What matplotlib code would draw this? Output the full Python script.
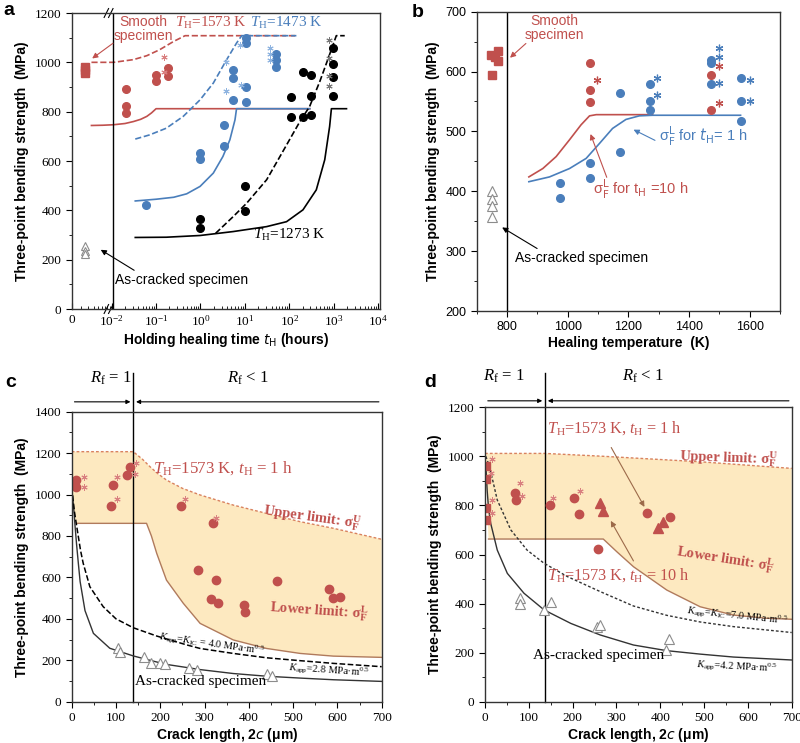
import numpy as np
import matplotlib
matplotlib.use('Agg')
import matplotlib.pyplot as plt
from matplotlib.ticker import MultipleLocator, FixedLocator
from matplotlib.transforms import blended_transform_factory

plt.rcParams['font.family'] = ['Liberation Serif', 'DejaVu Serif']
plt.rcParams['mathtext.fontset'] = 'custom'
plt.rcParams['mathtext.rm'] = 'Liberation Serif'
plt.rcParams['mathtext.it'] = 'Liberation Serif:italic'
plt.rcParams['mathtext.bf'] = 'Liberation Serif:bold'
SANS = ['Liberation Sans', 'DejaVu Sans']

RED = '#c0504d'
BLUE = '#4a7ebb'
TRI = '#8c8c8c'
FILL = '#fde9c0'
UPPER = '#d9825f'
LOWER = '#b07a5c'
ARROW_D = '#9c6a4a'

# ---------------- panel a data (time in hours) ----------------
ZERO_POS = -2.6   # log position used for the "0 h" specimens
a_smooth_v = [983, 968, 955]
a_crack_v = [255, 235, 222]

a_red_t = [0.021, 0.021, 0.021, 0.1, 0.1, 0.19, 0.19]
a_red_v = [893, 824, 794, 949, 924, 978, 946]
a_red_ast_t = [0.15, 0.15]
a_red_ast_v = [1023, 960]

a_blue_t = [0.058, 1, 1, 3.4, 3.4, 5.4, 5.4, 5.4, 10.7, 10.7, 10.7, 10.7, 51, 51, 51]
a_blue_v = [423, 634, 607, 747, 662, 969, 938, 847, 1097, 1077, 901, 840, 1032, 1009, 982]
a_blue_ast_t = [3.8, 3.8, 7.8, 8.1, 37, 37, 37]
a_blue_ast_v = [1003, 884, 1070, 908, 1058, 1034, 1009]

a_blk_t = [1, 1, 10, 10, 112, 112, 204, 204, 309, 309, 309, 977, 977, 977, 977]
a_blk_v = [365, 330, 497, 399, 861, 780, 962, 780, 948, 863, 786, 1057, 992, 942, 863]
a_blk_ast_t = [794, 794, 794, 794]
a_blk_ast_v = [1090, 1019, 945, 904]

red_lo_t = [0.0035, 0.0063, 0.011, 0.020, 0.031, 0.045, 0.062, 0.079, 0.10, 290]
red_lo_v = [744, 745, 747, 752, 760, 769, 781, 795, 812, 812]
red_up_t = [0.0035, 0.011, 0.031, 0.062, 0.12, 0.25, 0.45, 145]
red_up_v = [1000, 1000, 1011, 1027, 1051, 1085, 1108, 1108]
blue_lo_t = [0.034, 0.10, 0.25, 0.49, 0.98, 1.95, 3.2, 4.6, 6.0, 6.5, 290]
blue_lo_v = [438, 445, 453, 467, 497, 551, 618, 686, 767, 812, 812]
blue_up_t = [0.034, 0.072, 0.17, 0.41, 0.98, 1.95, 3.9, 6.5, 8.5, 145]
blue_up_v = [689, 706, 733, 781, 848, 916, 1011, 1078, 1108, 1108]
blk_lo_t = [0.034, 0.17, 0.98, 5.5, 31, 87, 204, 407, 631, 813, 891, 1950]
blk_lo_v = [290, 291, 298, 314, 334, 354, 402, 483, 605, 740, 812, 812]
blk_up_t = [2.2, 5.5, 11, 31, 72, 174, 288, 490, 759, 1150, 1780]
blk_up_v = [307, 375, 429, 524, 639, 760, 821, 923, 1017, 1108, 1108]

# ---------------- panel b data (temperature in K) ----------------
b_smooth_T = [746, 771, 771, 760, 749]
b_smooth_v = [628, 635, 618, 624, 595]
b_crack_T = [750, 750, 750, 750]
b_crack_v = [401, 387, 376, 357]
b_red_T = [1073, 1073, 1073, 1473, 1473]
b_red_v = [614, 570, 549, 595, 536]
b_red_ast_T = [1095, 1500, 1500]
b_red_ast_v = [586, 609, 548]
b_blue_T = [973, 973, 1073, 1073, 1173, 1173, 1273, 1273, 1273, 1473, 1473, 1473, 1573, 1573, 1573]
b_blue_v = [414, 389, 448, 422, 564, 466, 579, 551, 536, 620, 614, 580, 589, 551, 518]
b_blue_ast_T = [1295, 1295, 1500, 1500, 1500, 1600, 1600]
b_blue_ast_v = [590, 561, 640, 624, 581, 586, 551]
b_red_line_T = [872, 918, 962, 1006, 1044, 1072, 1094, 1280]
b_red_line_v = [424, 438, 458, 486, 511, 526, 528, 528]
b_blue_line_T = [872, 940, 1006, 1061, 1105, 1148, 1192, 1236, 1280, 1570]
b_blue_line_v = [416, 424, 438, 455, 480, 505, 520, 526, 527, 527]

# ---------------- panel c data (crack length in um) ----------------
c_up_x = [0, 139, 160, 177, 195, 214, 250, 290, 365, 440, 516, 591, 700]
c_up_v = [1207, 1207, 1170, 1134, 1100, 1070, 1030, 998, 949, 909, 869, 837, 784]
c_lo_x = [0, 4, 8, 12, 169, 180, 192, 214, 252, 290, 365, 440, 516, 591, 700]
c_lo_v = [1000, 930, 880, 861, 861, 800, 716, 587, 475, 378, 298, 257, 233, 220, 214]
c_k28_x = [2, 5, 7.5, 11, 15, 19, 30, 49, 86, 139, 184, 214, 260, 290, 365, 440, 516, 591, 700]
c_k28_v = [995, 920, 850, 760, 668, 580, 440, 330, 258, 221, 196, 180, 165, 155, 136, 123, 114, 106, 98]
c_k40_x = [2, 6, 12.6, 20, 26, 41, 71, 100, 139, 192, 260, 290, 365, 440, 516, 591, 700]
c_k40_v = [995, 920, 829, 730, 668, 555, 459, 400, 357, 317, 274, 257, 233, 212, 198, 185, 169]
c_crack_x = [105, 109, 163, 179, 199, 211, 265, 282, 440, 452]
c_crack_v = [258, 241, 214, 188, 185, 181, 163, 153, 134, 125]
c_red_x = [10, 10, 93, 88, 125, 132, 247, 318, 285, 326, 315, 331, 464, 388, 392, 580, 589, 606]
c_red_v = [1070, 1038, 1046, 946, 1094, 1131, 946, 861, 636, 587, 497, 478, 584, 467, 434, 542, 502, 507]
c_ast_x = [28, 28, 102, 103, 145, 143, 256, 325]
c_ast_v = [1086, 1038, 1083, 977, 1151, 1098, 977, 885]

# ---------------- panel d data ----------------
d_up_x = [0, 137, 263, 491, 700]
d_up_v = [1012, 1012, 1001, 978, 951]
d_lo_x = [0, 4, 8, 270, 301, 339, 415, 491, 567, 643, 700]
d_lo_v = [960, 850, 663, 663, 611, 550, 455, 387, 353, 340, 336]
d_k42_x = [2, 5, 8, 13, 28, 51, 89, 135, 196, 263, 339, 415, 491, 567, 700]
d_k42_v = [960, 860, 790, 727, 618, 523, 442, 374, 319, 272, 231, 208, 194, 182, 170]
d_k70_x = [2, 6, 13, 28, 59, 96, 135, 188, 264, 339, 415, 491, 567, 700]
d_k70_v = [1000, 980, 938, 822, 700, 618, 564, 510, 448, 390, 352, 325, 306, 282]
d_sq_x = [2, 2, 2, 2]
d_sq_v = [961, 906, 788, 741]
d_ast_x = [17, 14, 17, 17, 80, 85, 155, 216]
d_ast_v = [988, 933, 822, 770, 890, 840, 832, 860]
d_red_x = [68, 71, 148, 203, 215, 258, 369, 422]
d_red_v = [852, 822, 800, 830, 764, 621, 768, 754]
d_tri_x = [262, 270, 394, 407]
d_tri_v = [811, 777, 709, 734]
d_crack_x = [80, 81, 135, 151, 256, 262, 413, 421]
d_crack_v = [421, 397, 374, 405, 306, 313, 211, 255]

AST = (6, 2, 0)


def style_axes(ax):
    for s in ax.spines.values():
        s.set_linewidth(1.0)
        s.set_color('#333333')
    ax.tick_params(which='major', direction='out', length=4, width=0.8, labelsize=9.5)
    ax.tick_params(which='minor', direction='out', length=2, width=0.6)


def ylab(ax):
    ax.set_ylabel('Three-point bending strength  (MPa)', family=SANS, fontweight='bold', fontsize=10)


def arrow(ax, tail, head, color, lw=0.8):
    ax.annotate('', xy=head, xytext=tail,
                arrowprops=dict(arrowstyle='-|>', color=color, lw=lw, mutation_scale=8))


def stars(ax, x, y, color, ms=4.5, mew=0.7):
    ax.plot(x, y, marker=AST, ls='none', color=color, ms=ms, mew=mew)


fig = plt.figure(figsize=(8, 7.43), dpi=100)

# ======================= a =======================
ax = fig.add_axes([72 / 800, 1 - 309 / 743, 308 / 800, 296 / 743])
L = np.log10
ax.plot(L(red_lo_t), red_lo_v, color=RED, lw=1.2)
ax.plot(L(red_up_t), red_up_v, color=RED, lw=1.2, ls='--')
ax.plot(L(blue_lo_t), blue_lo_v, color=BLUE, lw=1.2)
ax.plot(L(blue_up_t), blue_up_v, color=BLUE, lw=1.2, ls='--')
ax.plot(L(blk_lo_t), blk_lo_v, color='k', lw=1.2)
ax.plot(L(blk_up_t), blk_up_v, color='k', lw=1.2, ls='--')

ax.plot([ZERO_POS] * len(a_smooth_v), a_smooth_v, 's', color=RED, ms=5.5)
ax.plot([ZERO_POS] * len(a_crack_v), a_crack_v, '^', mfc='white', mec=TRI, ms=6, mew=0.8)
ax.plot(L(a_red_t), a_red_v, 'o', color=RED, ms=5.5)
stars(ax, L(a_red_ast_t), a_red_ast_v, '#d98080')
ax.plot(L(a_blue_t), a_blue_v, 'o', color=BLUE, ms=5.5)
stars(ax, L(a_blue_ast_t), a_blue_ast_v, '#8fb4e0')
ax.plot(L(a_blk_t), a_blk_v, 'o', color='k', ms=5.5)
stars(ax, L(a_blk_ast_t), a_blk_ast_v, '#777777')

ax.axvline(-1.97, color='k', lw=1)
ax.set_xlim(-2.894, 4.045)
ax.set_ylim(0, 1200)
ax.yaxis.set_major_locator(MultipleLocator(200))
ax.yaxis.set_minor_locator(MultipleLocator(100))
maj = [-2.894, -2, -1, 0, 1, 2, 3, 4]
ax.xaxis.set_major_locator(FixedLocator(maj))
ax.set_xticklabels(['0', '10$^{-2}$', '10$^{-1}$', '10$^{0}$', '10$^{1}$', '10$^{2}$', '10$^{3}$', '10$^{4}$'])
minors = [np.log10(k * 10.0 ** d) for d in range(-3, 4) for k in range(2, 10)]
ax.xaxis.set_minor_locator(FixedLocator([m for m in minors if -2.85 < m < 4]))
style_axes(ax)
ax.tick_params(axis='x', which='both', direction='in')
tr = blended_transform_factory(ax.transData, ax.transAxes)
for yb in (0.0, 1.0):
    for dx in (-0.12, -0.02):
        ax.plot([-2.0 + dx - 0.05, -2.0 + dx + 0.05], [yb - 0.015, yb + 0.015], transform=tr,
                color='k', lw=0.8, clip_on=False)
ylab(ax)
ax.set_xlabel('Holding healing time $t_{\\rm H}$ (hours)', family=SANS, fontweight='bold',
              fontsize=10, math_fontfamily='dejavusans', labelpad=2)

ax.text(-1.29, 1135, 'Smooth\nspecimen', color=RED, ha='center', va='center', fontsize=10,
        family=SANS, linespacing=1.05)
arrow(ax, (-1.92, 1084), (-2.49, 1009), RED)
ax.text(-0.57, 1158, '$T_{\\rm H}$=1573 K', color=RED, fontsize=11, va='center')
ax.text(1.11, 1158, '$T_{\\rm H}$=1473 K', color=BLUE, fontsize=11, va='center')
ax.text(1.18, 300, '$T_{\\rm H}$=1273 K', color='k', fontsize=11, va='center')
ax.text(-1.92, 117, 'As-cracked specimen', color='k', fontsize=10, family=SANS, va='center')
arrow(ax, (-1.44, 151), (-2.30, 246), 'k')

# ======================= b =======================
ax = fig.add_axes([476.7 / 800, 1 - 311 / 743, 303.3 / 800, 299.3 / 743])
ax.plot(b_red_line_T, b_red_line_v, color=RED, lw=1.2)
ax.plot(b_blue_line_T, b_blue_line_v, color=BLUE, lw=1.2)
ax.plot(b_smooth_T, b_smooth_v, 's', color=RED, ms=5.5)
ax.plot(b_crack_T, b_crack_v, '^', mfc='white', mec=TRI, ms=6.5, mew=0.8)
ax.plot(b_red_T, b_red_v, 'o', color=RED, ms=5.5)
ax.plot(b_blue_T, b_blue_v, 'o', color=BLUE, ms=5.5)
stars(ax, b_red_ast_T, b_red_ast_v, RED, ms=5.5, mew=0.9)
stars(ax, b_blue_ast_T, b_blue_ast_v, BLUE, ms=5.5, mew=0.9)
ax.axvline(800, color='k', lw=1)
ax.set_xlim(700, 1700)
ax.set_ylim(200, 700)
ax.xaxis.set_major_locator(MultipleLocator(200))
ax.xaxis.set_minor_locator(MultipleLocator(100))
ax.yaxis.set_major_locator(MultipleLocator(100))
ax.yaxis.set_minor_locator(MultipleLocator(50))
style_axes(ax)
ax.tick_params(labelsize=9)
for lab in ax.get_xticklabels() + ax.get_yticklabels():
    lab.set_family(SANS)
ylab(ax)
ax.set_xlabel('Healing temperature  (K)', family=SANS, fontweight='bold', fontsize=10, labelpad=2)

ax.text(957, 673, 'Smooth\nspecimen', color=RED, ha='center', va='center', fontsize=10,
        family=SANS, linespacing=1.05)
arrow(ax, (869, 650), (803, 620), RED)
ax.text(1302, 491, 'σ$_{\\rm F}^{\\rm L}$ for $t_{\\rm H}$= 1 h', color=BLUE, fontsize=10.5, family=SANS,
        math_fontfamily='dejavusans', va='center')
arrow(ax, (1296, 483), (1209, 505), BLUE)
ax.text(1083, 403, 'σ$_{\\rm F}^{\\rm L}$ for t$_{\\rm H}$ =10 h', color=RED, fontsize=10.5, family=SANS,
        math_fontfamily='dejavusans', va='center')
arrow(ax, (1132, 419), (1072, 500), RED)
ax.text(825, 288, 'As-cracked specimen', color='k', fontsize=10, family=SANS, va='center')
arrow(ax, (907, 302), (776, 342), 'k')


def crack_panel(ax, up_x, up_v, lo_x, lo_v, lo_start, xsplit, ytop, ysplit_top, ylim):
    ax.fill(list(up_x) + list(lo_x[::-1]), list(up_v) + list(lo_v[::-1]), color=FILL, lw=0)
    ax.plot(up_x, up_v, color=UPPER, lw=1.0, ls=(0, (2, 1.5)))
    ax.plot(lo_x[lo_start:], lo_v[lo_start:], color=LOWER, lw=1.0)
    ax.set_xlim(0, 700)
    ax.set_ylim(0, ylim)
    ax.xaxis.set_major_locator(MultipleLocator(100))
    ax.xaxis.set_minor_locator(MultipleLocator(50))
    ax.yaxis.set_major_locator(MultipleLocator(200))
    ax.yaxis.set_minor_locator(MultipleLocator(100))
    style_axes(ax)
    ylab(ax)
    ax.set_xlabel('Crack length, 2$c$ (μm)', family=SANS, fontweight='bold', fontsize=10,
                  math_fontfamily='dejavusans', labelpad=1)
    t = blended_transform_factory(ax.transData, ax.transAxes)
    ax.plot([xsplit, xsplit], [0, ysplit_top], transform=t, color='k', lw=1, clip_on=False)
    ap = dict(arrowstyle='-|>', color='k', lw=0.8, mutation_scale=6)
    ax.annotate('', xy=(xsplit, ytop), xytext=(0, ytop), xycoords=t, textcoords=t,
                arrowprops=ap, annotation_clip=False)
    ax.annotate('', xy=(xsplit, ytop), xytext=(700, ytop), xycoords=t, textcoords=t,
                arrowprops=ap, annotation_clip=False)


# ======================= c =======================
ax = fig.add_axes([71.7 / 800, 1 - 701.7 / 743, 310 / 800, 290 / 743])
crack_panel(ax, c_up_x, c_up_v, c_lo_x, c_lo_v, 3, 139, 1.034, 1.132, 1400)
ax.plot(c_k28_x, c_k28_v, color='#333333', lw=1.0)
ax.plot(c_k40_x, c_k40_v, color='k', lw=1.1, ls='--')
ax.plot(c_crack_x, c_crack_v, '^', mfc='white', mec=TRI, ms=6.5, mew=0.8)
ax.plot(c_red_x, c_red_v, 'o', color=RED, ms=6)
stars(ax, c_ast_x, c_ast_v, '#d98080')
ax.text(0.06, 1.115, '$R_{\\rm f}$ = 1', transform=ax.transAxes, fontsize=12, va='center')
ax.text(0.5, 1.115, '$R_{\\rm f}$ < 1', transform=ax.transAxes, fontsize=12, va='center')
ax.text(184, 1127, '$T_{\\rm H}$=1573 K, $t_{\\rm H}$ = 1 h', color=RED, fontsize=12.2, va='center')
ax.text(542, 893, 'Upper limit: σ$_{\\mathbf{F}}^{\\mathbf{U}}$', color=RED, fontsize=10.5,
        fontweight='bold', ha='center', va='center', rotation=-8)
ax.text(558, 442, 'Lower limit: σ$_{\\mathbf{F}}^{\\mathbf{L}}$', color=RED, fontsize=10.5,
        fontweight='bold', ha='center', va='center', rotation=-4)
ax.text(316, 278, '$K_{\\rm app}$=$K_{\\rm IC}$ = 4.0 MPa·m$^{0.5}$', fontsize=7.5,
        ha='center', va='center', rotation=-8)
ax.text(580, 148, '$K_{\\rm app}$=2.8 MPa·m$^{0.5}$', fontsize=7.5, ha='center', va='center', rotation=-4)
ax.text(143, 97, 'As-cracked specimen', fontsize=11, va='center')

# ======================= d =======================
ax = fig.add_axes([485 / 800, 1 - 701.7 / 743, 306.7 / 800, 294.4 / 743])
crack_panel(ax, d_up_x, d_up_v, d_lo_x, d_lo_v, 2, 137, 1.022, 1.115, 1200)
ax.plot(d_k42_x, d_k42_v, color='#333333', lw=1.0)
ax.plot(d_k70_x, d_k70_v, color='#333333', lw=1.0, ls=(0, (2, 1.5)))
ax.plot(d_crack_x, d_crack_v, '^', mfc='white', mec=TRI, ms=6.5, mew=0.8)
ax.plot(d_sq_x, d_sq_v, 's', color=RED, ms=6)
ax.plot(d_red_x, d_red_v, 'o', color=RED, ms=6)
ax.plot(d_tri_x, d_tri_v, '^', color=RED, ms=6.5)
stars(ax, d_ast_x, d_ast_v, '#d98080')
ax.text(-0.007, 1.104, '$R_{\\rm f}$ = 1', transform=ax.transAxes, fontsize=12, va='center')
ax.text(0.446, 1.104, '$R_{\\rm f}$ < 1', transform=ax.transAxes, fontsize=12, va='center')
ax.text(141, 1114, '$T_{\\rm H}$=1573 K, $t_{\\rm H}$ = 1 h', color=RED, fontsize=11.7, va='center')
arrow(ax, (285, 1046), (367, 784), ARROW_D)
ax.text(141, 516, '$T_{\\rm H}$=1573 K, $t_{\\rm H}$ = 10 h', color=RED, fontsize=11.7, va='center')
arrow(ax, (342, 564), (284, 747), ARROW_D)
ax.text(555, 996, 'Upper limit: σ$_{\\mathbf{F}}^{\\mathbf{U}}$', color=RED, fontsize=10.5,
        fontweight='bold', ha='center', va='center', rotation=-2)
ax.text(548, 584, 'Lower limit: σ$_{\\mathbf{F}}^{\\mathbf{L}}$', color=RED, fontsize=10.5,
        fontweight='bold', ha='center', va='center', rotation=-9)
ax.text(575, 347, '$K_{\\rm app}$=$K_{\\rm IC}$=7.0 MPa·m$^{0.5}$', fontsize=7.5,
        ha='center', va='center', rotation=-6)
ax.text(575, 143, '$K_{\\rm app}$=4.2 MPa·m$^{0.5}$', fontsize=7.5, ha='center', va='center', rotation=-3)
ax.text(110, 190, 'As-cracked specimen', fontsize=11, va='center')

# panel letters
for lbl, x, y in [('a', 0.004, 0.997), ('b', 0.515, 0.995), ('c', 0.006, 0.497), ('d', 0.53, 0.497)]:
    fig.text(x, y, lbl, family=SANS, fontweight='bold', fontsize=14, va='top')

fig.savefig('out.png', dpi=100)
